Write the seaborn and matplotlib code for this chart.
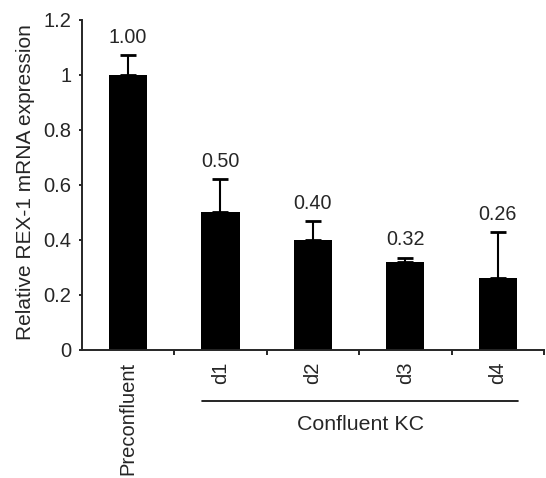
import pandas as pd
import matplotlib.pyplot as plt
import matplotlib.transforms as mtransforms
import seaborn as sns

# data
conditions = ["Preconfluent", "d1", "d2", "d3", "d4"]
expression = [1.00, 0.50, 0.40, 0.32, 0.26]
err_upper = [0.073, 0.121, 0.069, 0.016, 0.168]
value_labels = ["1.00", "0.50", "0.40", "0.32", "0.26"]
group_name = "Confluent KC"

df = pd.DataFrame({"condition": conditions, "expression": expression})

sns.set_style("ticks")
plt.rcParams["font.family"] = ["Liberation Sans", "DejaVu Sans"]

fig = plt.figure(figsize=(5.46, 4.78), dpi=100)
ax = fig.add_axes([0.1496, 0.2678, 0.8467, 0.6904])

sns.barplot(data=df, x="condition", y="expression", order=conditions,
            color="black", width=0.415, errorbar=None, ax=ax,
            linewidth=0, saturation=1)

# upper-only error bars
xs = list(range(len(conditions)))
ax.errorbar(xs, expression, yerr=[[0] * len(err_upper), err_upper],
            fmt="none", ecolor="black", elinewidth=1.5, capsize=5.8,
            capthick=2)

# value labels above the error bars
for x, v, e, lab in zip(xs, expression, err_upper, value_labels):
    ax.annotate(lab, (x, v + e), xytext=(0, 12.7), textcoords="offset points",
                ha="center", va="center", fontsize=14.2)

ax.set_xlim(-0.5, 4.5)
ax.set_ylim(0, 1.2)
ax.set_yticks([0, 0.2, 0.4, 0.6, 0.8, 1.0, 1.2])
ax.set_yticklabels(["0", "0.2", "0.4", "0.6", "0.8", "1", "1.2"])
ax.set_ylabel("Relative REX-1 mRNA expression", fontsize=15)
ax.yaxis.set_label_coords(-0.101, 0.51)
ax.set_xlabel("")

# category labels without ticks, boundary ticks as minor ticks
ax.set_xticks(xs)
ax.set_xticklabels(conditions, rotation=90, fontsize=14.5)
ax.tick_params(axis="x", which="major", length=0, pad=8.5)
ax.set_xticks([0.5, 1.5, 2.5, 3.5, 4.5], minor=True)
ax.tick_params(axis="x", which="minor", length=3.6, width=1.4, direction="out")
ax.tick_params(axis="y", labelsize=14.5, length=2.4, width=1.4,
               direction="out", pad=5)

for s in ["left", "bottom"]:
    ax.spines[s].set_linewidth(1.4)
sns.despine(ax=ax)

# bracket under the confluent groups
trans = mtransforms.blended_transform_factory(ax.transData, ax.transAxes)
ax.plot([0.804, 4.222], [-0.1536, -0.1536], color="black", lw=1.2,
        transform=trans, clip_on=False)
ax.text((0.804 + 4.222) / 2, -0.2424, group_name, ha="center", va="baseline",
        fontsize=15.4, transform=trans)

fig.savefig("out.png", dpi=100)
